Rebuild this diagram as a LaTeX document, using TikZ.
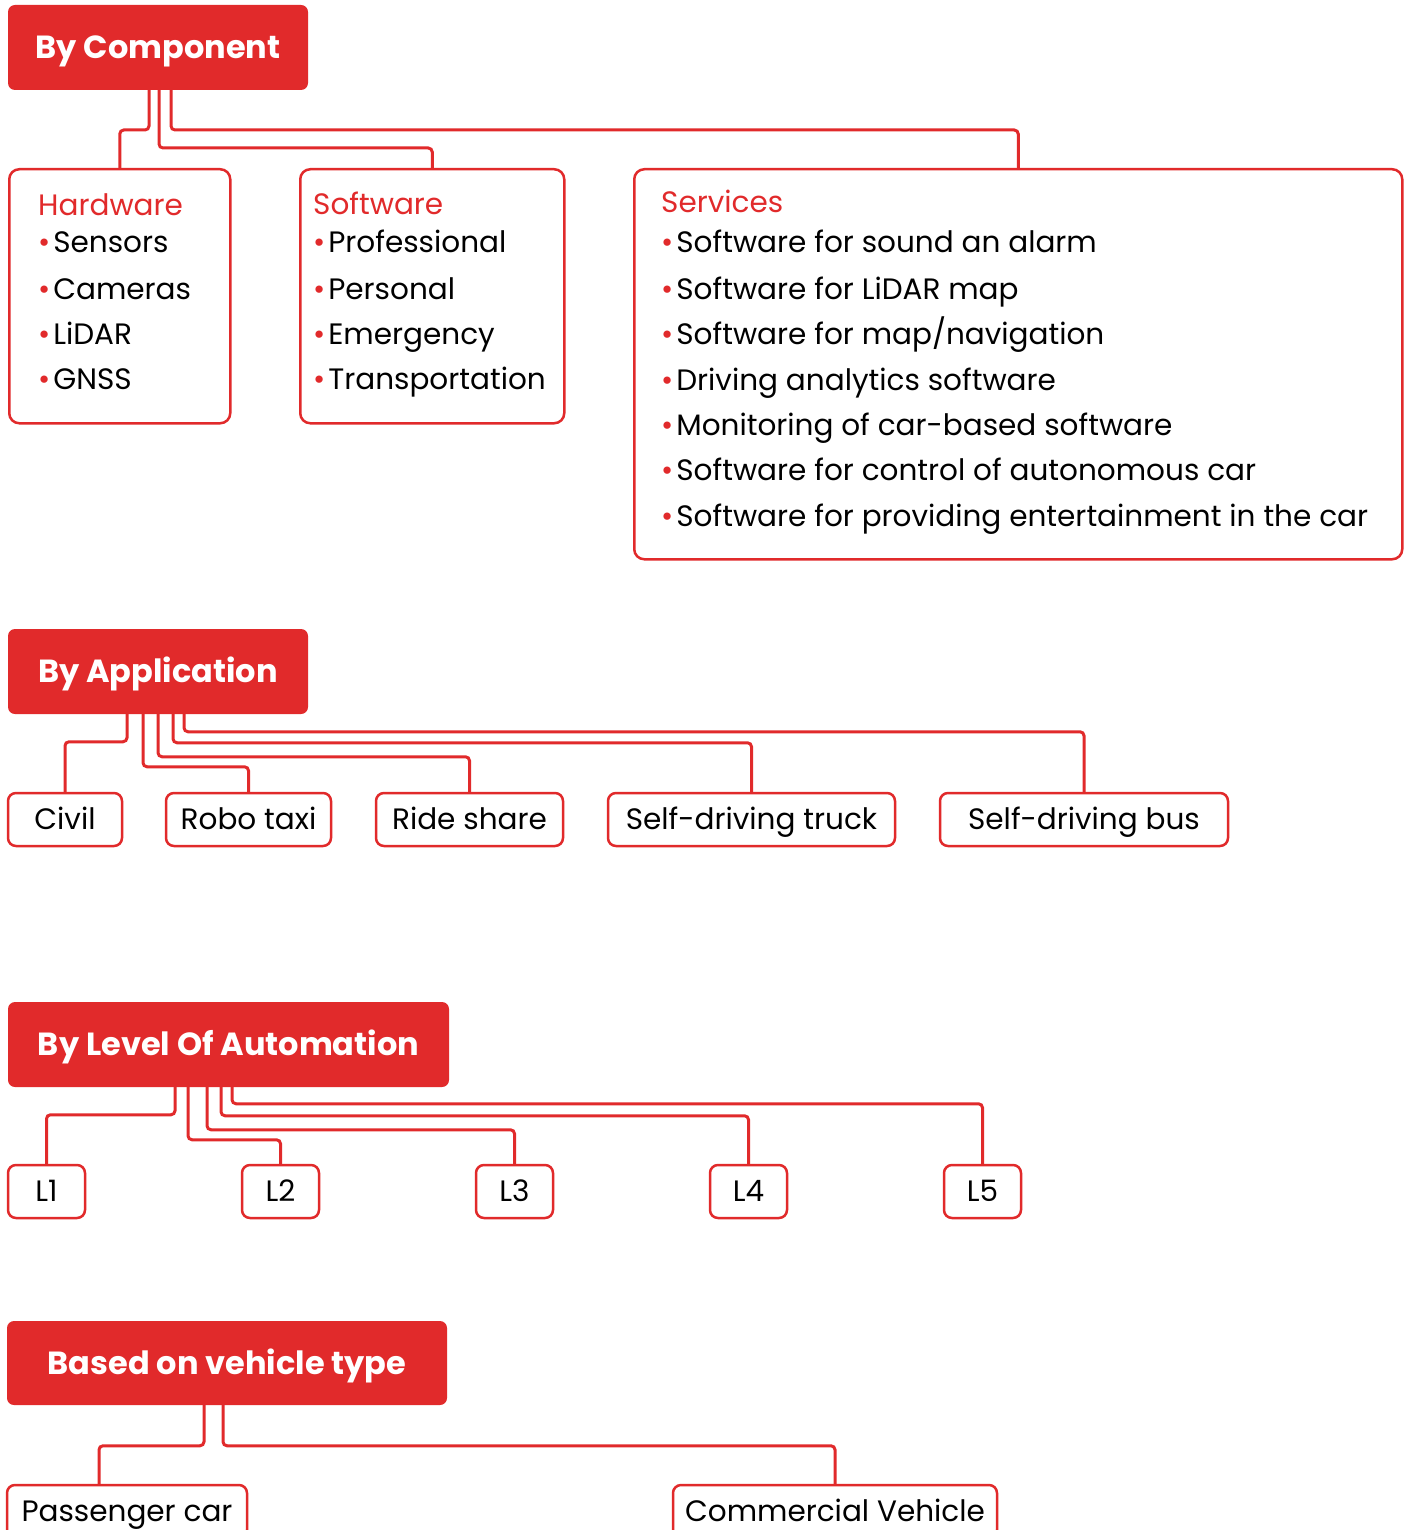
\documentclass[tikz,border=0pt]{standalone}
\usepackage{fontspec}
\setmainfont{Poppins}
\definecolor{brandred}{HTML}{E12A2B}
\tikzset{
  head/.style={fill=brandred, rounded corners=7pt, text=white,
    font=\fontsize{32}{38}\selectfont\bfseries, inner sep=0pt,
    text height=22.3pt, text depth=0pt},
  leaf/.style={draw=brandred, line width=2.5pt, rounded corners=8pt, fill=white,
    font=\fontsize{29.5}{35}\selectfont, inner sep=0pt, minimum height=53pt,
    text height=20.6pt, text depth=0pt},
  panel/.style={draw=brandred, line width=2.5pt, rounded corners=10pt,
    inner sep=0pt, anchor=north west},
  title/.style={anchor=base west, inner sep=0pt, text=brandred,
    font=\fontsize{29.5}{35}\selectfont},
  item/.style={anchor=base west, inner sep=0pt, font=\fontsize{29.5}{35}\selectfont},
  conn/.style={draw=brandred, line width=3pt, rounded corners=4pt},
}
\newcommand{\bul}{\textcolor{brandred}{•}\hspace{3pt}}
\begin{document}
\begin{tikzpicture}[x=1pt,y=-1pt]
  \useasboundingbox (0,0) rectangle (1405,1530);

  \node[head, minimum width=300pt, minimum height=85pt] (comp) at (158,47.5) {By Component};
  \node[panel, minimum width=221pt, minimum height=254pt] (hw) at (8,168) {};
  \node[panel, minimum width=264pt, minimum height=254pt] (sw) at (299,168) {};
  \node[panel, minimum width=768pt, minimum height=390pt] (sv) at (633,168) {};

  \node[title] (hw0) at (38,216) {Hardware};
  \node[item] (hw1) at (38,253) {\bul Sensors};
  \node[item] (hw2) at (38,299) {\bul Cameras};
  \node[item] (hw3) at (38,344) {\bul LiDAR};
  \node[item] (hw4) at (38,389) {\bul GNSS};

  \node[title] (sw0) at (313,215) {Software};
  \node[item] (sw1) at (313,253) {\bul Professional};
  \node[item] (sw2) at (313,299) {\bul Personal};
  \node[item] (sw3) at (313,344) {\bul Emergency};
  \node[item] (sw4) at (313,389) {\bul Transportation};

  \node[title] (sv0) at (661,213) {Services};
  \node[item] (sv1) at (661,253) {\bul Software for sound an alarm};
  \node[item] (sv2) at (661,299) {\bul Software for LiDAR map};
  \node[item] (sv3) at (661,344) {\bul Software for map/navigation};
  \node[item] (sv4) at (661,390) {\bul Driving analytics software};
  \node[item] (sv5) at (661,435) {\bul Monitoring of car-based software};
  \node[item] (sv6) at (661,480) {\bul Software for control of autonomous car};
  \node[item] (sv7) at (661,526) {\bul Software for providing entertainment in the car};

  \draw[conn] ([xshift=-9pt]comp.south) |- ([yshift=38pt]hw.north) -- (hw.north);
  \draw[conn] ([xshift=1pt]comp.south) |- ([yshift=20pt]sw.north) -- (sw.north);
  \draw[conn] ([xshift=13pt]comp.south) |- ([yshift=38pt]sv.north) -- (sv.north);

  \node[head, minimum width=300pt, minimum height=85pt] (app) at (158,671.5) {By Application};
  \node[leaf, minimum width=114pt] (civ) at (65,819.5) {Civil};
  \node[leaf, minimum width=165pt] (robo) at (248.5,819.5) {Robo taxi};
  \node[leaf, minimum width=187pt] (ride) at (469.5,819.5) {Ride share};
  \node[leaf, minimum width=287pt] (truck) at (751.5,819.5) {Self-driving truck};
  \node[leaf, minimum width=288pt] (bus) at (1084,819.5) {Self-driving bus};

  \draw[conn] ([xshift=-31pt]app.south) |- ([yshift=50pt]civ.north) -- (civ.north);
  \draw[conn] ([xshift=-15pt]app.south) |- ([yshift=25pt]robo.north) -- (robo.north);
  \draw[conn] (app.south) |- ([yshift=35pt]ride.north) -- (ride.north);
  \draw[conn] ([xshift=15pt]app.south) |- ([yshift=49pt]truck.north) -- (truck.north);
  \draw[conn] ([xshift=26pt]app.south) |- ([yshift=60pt]bus.north) -- (bus.north);

  \node[head, minimum width=441pt, minimum height=85pt] (auto) at (228.5,1044.5) {By Level Of Automation};
  \node[leaf, minimum width=77pt] (l1) at (46.5,1191.5) {L1};
  \node[leaf, minimum width=77pt] (l2) at (280.5,1191.5) {L2};
  \node[leaf, minimum width=77pt] (l3) at (514.5,1191.5) {L3};
  \node[leaf, minimum width=77pt] (l4) at (748.5,1191.5) {L4};
  \node[leaf, minimum width=77pt] (l5) at (982.5,1191.5) {L5};

  \draw[conn] ([xshift=-53.5pt]auto.south) |- ([yshift=49pt]l1.north) -- (l1.north);
  \draw[conn] ([xshift=-40.5pt]auto.south) |- ([yshift=24pt]l2.north) -- (l2.north);
  \draw[conn] ([xshift=-21.5pt]auto.south) |- ([yshift=34pt]l3.north) -- (l3.north);
  \draw[conn] ([xshift=-7.5pt]auto.south) |- ([yshift=48pt]l4.north) -- (l4.north);
  \draw[conn] ([xshift=3.5pt]auto.south) |- ([yshift=60pt]l5.north) -- (l5.north);

  \node[head, minimum width=440pt, minimum height=84pt] (veh) at (227,1363) {Based on vehicle type};
  \node[leaf, minimum width=240pt] (pass) at (127,1511.5) {Passenger car};
  \node[leaf, minimum width=324pt] (comm) at (835,1511.5) {Commercial Vehicle};

  \draw[conn] ([xshift=-23pt]veh.south) |- ([yshift=38pt,xshift=-28pt]pass.north) -- ([xshift=-28pt]pass.north);
  \draw[conn] ([xshift=-4pt]veh.south) |- ([yshift=38pt]comm.north) -- (comm.north);
\end{tikzpicture}
\end{document}
